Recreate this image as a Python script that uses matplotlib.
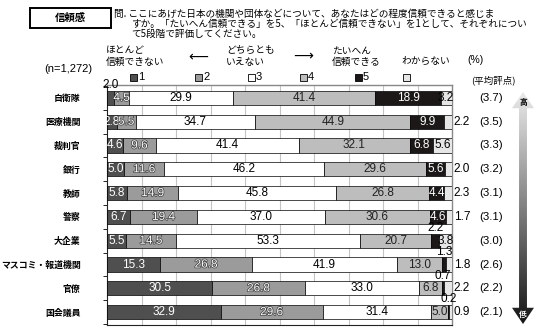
import matplotlib
matplotlib.use("Agg")
import matplotlib.pyplot as plt
import matplotlib.patheffects as pe
import numpy as np
from matplotlib.patches import Polygon, Rectangle
from matplotlib.transforms import blended_transform_factory

plt.rcParams["font.family"] = ["Liberation Sans", "Noto Sans CJK JP", "DejaVu Sans"]
JP = ["Noto Sans CJK JP", "DejaVu Sans"]

W, H = 540, 327

# data (%), order: 1 (ほとんど信頼できない) .. 5 (たいへん信頼できる), わからない
categories = ["自衛隊", "医療機関", "裁判官", "銀行", "教師", "警察", "大企業",
              "マスコミ・報道機関", "官僚", "国会議員"]
s1 = [2.0, 2.8, 4.6, 5.0, 5.8, 6.7, 5.5, 15.3, 30.5, 32.9]
s2 = [4.5, 5.5, 9.6, 11.6, 14.9, 19.4, 14.5, 26.8, 26.8, 29.6]
s3 = [29.9, 34.7, 41.4, 46.2, 45.8, 37.0, 53.3, 41.9, 33.0, 31.4]
s4 = [41.4, 44.9, 32.1, 29.6, 26.8, 30.6, 20.7, 13.0, 6.8, 5.0]
s5 = [18.9, 9.9, 6.8, 5.6, 4.4, 4.6, 2.2, 1.3, 0.7, 0.2]
s6 = [3.2, 2.2, 5.6, 2.0, 2.3, 1.7, 3.8, 1.8, 2.2, 0.9]
means = [3.7, 3.5, 3.3, 3.2, 3.1, 3.1, 3.0, 2.6, 2.2, 2.1]
legend_labels = ["1", "2", "3", "4", "5", ""]

colors = ["#4f4f4f", "#9b9b9b", "#ffffff", "#bdbdbd", "#1c1818", "#e6e6e6"]
text_colors = ["white", "white", "black", "#222222", "white", "black"]


def fx(x):
    return x / W


def fy(y):
    return 1 - y / H


fig = plt.figure(figsize=(W / 100, H / 100), dpi=100)

# title box and question
fig.patches.append(Rectangle((fx(30), fy(28)), fx(111) - fx(30), fy(8) - fy(28),
                             transform=fig.transFigure, fill=False,
                             edgecolor="black", lw=1.4))
fig.text(fx(70), fy(18), "信頼感", family=JP, fontsize=7.5, fontweight="bold",
         ha="center", va="center")
q_style = dict(family=JP, fontsize=6.95, ha="left", va="center")
fig.text(fx(114), fy(14), "問. ここにあげた日本の機関や団体などについて、あなたはどの程度信頼できると感じま",
         **q_style)
fig.text(fx(131), fy(24), "すか。「たいへん信頼できる」を5、「ほとんど信頼できない」を1として、それぞれについ",
         **q_style)
fig.text(fx(131), fy(34), "て5段階で評価してください。", **q_style)

# scale header
hdr = dict(family=JP, fontsize=7, ha="left", va="center", linespacing=1.15)
fig.text(fx(106), fy(56), "ほとんど\n信頼できない", **hdr)
fig.text(fx(198), fy(57), "⟵", family="DejaVu Sans", fontsize=10, ha="center", va="center")
fig.text(fx(226), fy(56), "どちらとも\nいえない", **hdr)
fig.text(fx(303), fy(56), "⟶", family="DejaVu Sans", fontsize=10, ha="center", va="center")
fig.text(fx(332), fy(56), "たいへん\n信頼できる", **hdr)
fig.text(fx(401), fy(61), "わからない", **hdr)
fig.text(fx(467), fy(60), "(%)", fontsize=7.5, ha="left", va="center")
fig.text(fx(44), fy(69), "(n=1,272)", fontsize=8, ha="left", va="center")
fig.text(fx(471), fy(80), "(平均評点)", family=JP, fontsize=6.8, ha="left", va="center")

# legend squares
legend_x = [133, 198, 251, 303, 358, 406]
for cx, c, lab in zip(legend_x, colors, legend_labels):
    fig.patches.append(Rectangle((fx(cx - 3.5), fy(80.5)), fx(7), fy(0) - fy(7),
                                 transform=fig.transFigure, facecolor=c,
                                 edgecolor="black", lw=0.6))
    if lab:
        fig.text(fx(cx + 5), fy(77), lab, fontsize=8, ha="left", va="center")

# main bar chart
ax = fig.add_axes([fx(107), fy(325), fx(452) - fx(107), fy(85) - fy(325)])
data = np.array([s1, s2, s3, s4, s5, s6])
y = np.arange(len(categories))
left = np.zeros(len(categories))
bh = 0.6
for j, (vals, c) in enumerate(zip(data, colors)):
    ax.barh(y, vals, left=left, height=bh, color=c, edgecolor="black", lw=0.5, zorder=3)
    for i, v in enumerate(vals):
        lab = f"{v:.1f}"
        xc = left[i] + v / 2
        if (j == 0 and v < 2.5) or (j == 4 and v < 3):
            ax.text(xc, y[i] - bh / 2 + 0.02, lab, fontsize=8.5, ha="center",
                    va="bottom", color="black", zorder=5)
        elif j == 5 and v < 3:
            ax.text(100.5, y[i], lab, fontsize=8.5, ha="left", va="center",
                    color="black", zorder=5, clip_on=False)
        else:
            effects = None
            if j == 1:
                effects = [pe.withStroke(linewidth=1.0, foreground="#3a3a3a")]
            ax.text(xc, y[i], lab, fontsize=8.5, ha="center", va="center",
                    color=text_colors[j], zorder=5, path_effects=effects)
    left += vals

ax.set_xlim(0, 100)
ax.set_ylim(len(categories) - 0.46, -0.54)
ax.set_xticks(np.arange(10, 100, 10))
ax.xaxis.grid(True, color="#c4c4c4", lw=0.8, zorder=0)
ax.tick_params(axis="x", length=0, labelbottom=False)
ax.set_yticks(y)
ax.set_yticklabels(categories, family=JP, fontsize=6.4, fontweight="bold")
ax.tick_params(axis="y", which="major", length=0, pad=19)
ax.set_yticks(np.arange(-0.5, len(categories), 1), minor=True)
ax.tick_params(axis="y", which="minor", length=3, width=0.6, direction="out")
for side in ["left", "bottom"]:
    ax.spines[side].set_color("#222222")
    ax.spines[side].set_linewidth(0.8)
for side in ["top", "right"]:
    ax.spines[side].set_color("#888888")
    ax.spines[side].set_linewidth(1.0)

trans = blended_transform_factory(ax.transAxes, ax.transData)
for i, m in enumerate(means):
    ax.text(1.113, y[i], f"({m:.1f})", transform=trans, fontsize=8.2,
            ha="center", va="center", clip_on=False)

# gradient arrow 高 → 低
ax2 = fig.add_axes([fx(512), fy(324), fx(22), fy(0) - fy(232)])
ax2.set_xlim(0, 1)
ax2.set_ylim(0, 1)
ax2.axis("off")
grad = np.linspace(0, 1, 256).reshape(-1, 1)
img = ax2.imshow(grad, extent=[0, 1, 0, 1], aspect="auto", cmap="gray",
                 vmin=-0.1, vmax=1.1, origin="lower")
h = 0.07
arrow = Polygon([(0.5, 1), (1, 1 - h), (0.68, 1 - h), (0.68, h), (1, h), (0.5, 0),
                 (0, h), (0.32, h), (0.32, 1 - h), (0, 1 - h)], closed=True,
                facecolor="none", edgecolor="none", transform=ax2.transData)
ax2.add_patch(arrow)
img.set_clip_path(arrow)
ax2.text(0.5, 1 - h * 0.62, "高", family=JP, fontsize=5.5, ha="center", va="center",
         color="black", fontweight="bold")
ax2.text(0.5, h * 0.62, "低", family=JP, fontsize=5.5, ha="center", va="center",
         color="white", fontweight="bold")

fig.savefig("out.png", dpi=100)
